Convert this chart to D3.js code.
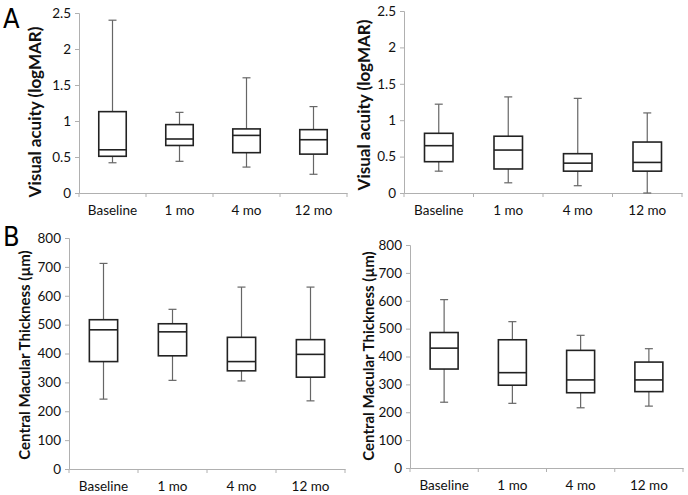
<!DOCTYPE html>
<html>
<head>
<meta charset="utf-8">
<script src="https://cdn.jsdelivr.net/npm/d3@7"></script>
<style>
  html, body { margin: 0; padding: 0; background: #fff; }
  svg { display: block; font-family: Lato, "Open Sans", sans-serif; }
</style>
</head>
<body>
<svg id="chart" width="688" height="495"></svg>
<script>
const categories = ["Baseline", "1 mo", "4 mo", "12 mo"];

// [min, Q1, median, Q3, max]
const vaLeft = [
  [0.42, 0.51, 0.60, 1.13, 2.40],
  [0.44, 0.66, 0.75, 0.95, 1.12],
  [0.36, 0.56, 0.80, 0.89, 1.60],
  [0.26, 0.54, 0.74, 0.88, 1.20]
];
const vaRight = [
  [0.30, 0.43, 0.65, 0.82, 1.22],
  [0.14, 0.33, 0.59, 0.78, 1.32],
  [0.10, 0.30, 0.41, 0.54, 1.30],
  [0.00, 0.30, 0.42, 0.70, 1.10]
];
const cmtLeft = [
  [242, 372, 482, 517, 712],
  [307, 392, 475, 503, 553],
  [305, 340, 372, 456, 630],
  [236, 318, 397, 448, 630]
];
const cmtRight = [
  [236, 355, 430, 486, 604],
  [232, 297, 342, 460, 525],
  [216, 270, 316, 422, 476],
  [222, 274, 316, 380, 428]
];

const vaTicks = [0, 0.5, 1, 1.5, 2, 2.5];
const cmtTicks = [0, 100, 200, 300, 400, 500, 600, 700, 800];

const svg = d3.select("#chart");

function panel(opt) {
  const g = svg.append("g");
  const x = d3.scaleBand().domain(categories).range([opt.x0, opt.x1]);
  const y = d3.scaleLinear().domain(opt.domain).range([opt.y0, opt.y1]);

  // y axis
  const ya = g.append("g").attr("transform", `translate(${opt.x0},0)`)
    .call(d3.axisLeft(y).tickValues(opt.ticks).tickSize(4).tickPadding(4)
      .tickFormat(d => String(d)));
  ya.select(".domain").attr("stroke", "#b0b0b0");
  ya.selectAll(".tick line").attr("stroke", "#b0b0b0");
  ya.selectAll("text").attr("font-size", 13.5).attr("fill", "#111")
    .attr("font-family", "Lato, sans-serif");

  // x axis
  const xa = g.append("g").attr("transform", `translate(0,${opt.y0})`)
    .call(d3.axisBottom(x).tickSize(0).tickPadding(12));
  xa.select(".domain").attr("stroke", "#b0b0b0");
  xa.selectAll("text").attr("font-size", 13.5).attr("fill", "#111")
    .attr("font-family", "Lato, sans-serif");
  // separators between categories
  const bounds = categories.map(c => x(c)).concat([x.range()[1]]);
  g.selectAll(".sep").data(bounds).enter().append("line")
    .attr("x1", d => d).attr("x2", d => d)
    .attr("y1", opt.y0).attr("y2", opt.y0 + 4)
    .attr("stroke", "#b0b0b0");

  // y title
  g.append("text")
    .attr("transform", `translate(${opt.titleX},${opt.titleY}) rotate(-90)`)
    .attr("text-anchor", "middle")
    .attr("dominant-baseline", "central")
    .attr("font-size", opt.titleSize).attr("font-weight", "bold").attr("fill", "#111")
    .text(opt.title);

  const bw = x.bandwidth() * 0.41;
  const cap = 8;
  const boxes = g.selectAll(".box").data(opt.data).enter().append("g")
    .attr("transform", (d, i) => `translate(${x(categories[i]) + x.bandwidth() / 2},0)`);

  // whiskers
  boxes.append("line").attr("x1", 0).attr("x2", 0)
    .attr("y1", d => y(d[3])).attr("y2", d => y(d[4]))
    .attr("stroke", "#666").attr("stroke-width", 1.2);
  boxes.append("line").attr("x1", 0).attr("x2", 0)
    .attr("y1", d => y(d[1])).attr("y2", d => y(d[0]))
    .attr("stroke", "#666").attr("stroke-width", 1.2);
  boxes.append("line").attr("x1", -cap / 2).attr("x2", cap / 2)
    .attr("y1", d => y(d[4])).attr("y2", d => y(d[4]))
    .attr("stroke", "#666").attr("stroke-width", 1.2);
  boxes.append("line").attr("x1", -cap / 2).attr("x2", cap / 2)
    .attr("y1", d => y(d[0])).attr("y2", d => y(d[0]))
    .attr("stroke", "#666").attr("stroke-width", 1.2);
  // box
  boxes.append("rect")
    .attr("x", -bw / 2).attr("width", bw)
    .attr("y", d => y(d[3])).attr("height", d => y(d[1]) - y(d[3]))
    .attr("fill", "#fff").attr("stroke", "#222").attr("stroke-width", 1.6);
  boxes.append("line").attr("x1", -bw / 2).attr("x2", bw / 2)
    .attr("y1", d => y(d[2])).attr("y2", d => y(d[2]))
    .attr("stroke", "#222").attr("stroke-width", 1.6);
}

panel({ data: vaLeft, domain: [0, 2.5], ticks: vaTicks, x0: 79, x1: 347, y0: 193, y1: 13,
        title: "Visual acuity (logMAR)", titleX: 34, titleY: 112, titleSize: 17 });
panel({ data: vaRight, domain: [0, 2.5], ticks: vaTicks, x0: 404, x1: 682, y0: 193, y1: 11,
        title: "Visual acuity (logMAR)", titleX: 363, titleY: 105, titleSize: 17 });
panel({ data: cmtLeft, domain: [0, 800], ticks: cmtTicks, x0: 69, x1: 345, y0: 469, y1: 238,
        title: "Central Macular Thickness (\u00b5m)", titleX: 24, titleY: 355, titleSize: 15 });
panel({ data: cmtRight, domain: [0, 800], ticks: cmtTicks, x0: 410, x1: 683, y0: 468, y1: 245,
        title: "Central Macular Thickness (\u00b5m)", titleX: 368, titleY: 356, titleSize: 15 });

svg.append("text").attr("x", 3).attr("y", 28).attr("font-size", 27)
  .attr("font-family", "'DejaVu Sans Condensed', 'DejaVu Sans', sans-serif")
  .attr("fill", "#000").text("A");
svg.append("text").attr("x", 3).attr("y", 246).attr("font-size", 27)
  .attr("font-family", "'DejaVu Sans Condensed', 'DejaVu Sans', sans-serif")
  .attr("fill", "#000").text("B");
</script>
</body>
</html>
